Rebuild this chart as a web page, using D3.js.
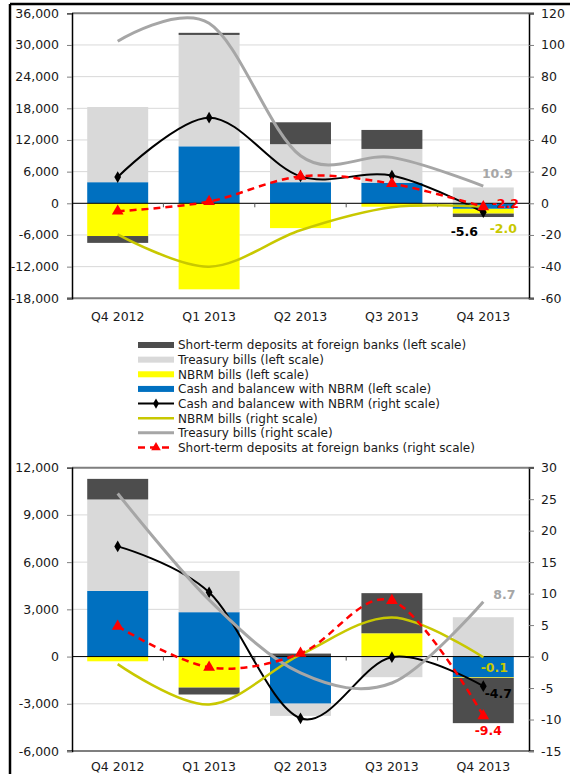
<!DOCTYPE html>
<html>
<head>
<meta charset="utf-8">
<script src="https://cdn.jsdelivr.net/npm/d3@7"></script>
<style>
  html, body { margin: 0; padding: 0; background: #fff; }
  svg { display: block; font-family: "DejaVu Sans", Verdana, sans-serif; }
</style>
</head>
<body>
<svg id="chart" width="570" height="774"></svg>
<script>
// Quarters on the horizontal axis
const categories = ["Q4 2012", "Q1 2013", "Q2 2013", "Q3 2013", "Q4 2013"];

// Upper panel: stacked bars (left scale, millions of denars)
const topCashLeft      = [4000, 10800, 4000, 3900, -1050];
const topNbrmLeft      = [-6200, -16300, -4700, -650, -900];
const topTreasuryLeft  = [14250, 21100, 7200, 6400, 3000];
const topDepositsLeft  = [-1300, 400, 4150, 3600, -650];
// Upper panel: lines (right scale, percent)
const topCashRight     = [16.6, 54.1, 17.0, 17.5, -5.6];
const topNbrmRight     = [-19.6, -40.0, -17.0, -2.5, -2.0];
const topTreasuryRight = [102.3, 113.7, 30.0, 29.0, 10.9];
const topDepositsRight = [-5.0, 1.1, 17.0, 12.4, -2.2];

// Lower panel: stacked bars (left scale)
const botCashLeft      = [4170, 2820, -2990, 0, -1310];
const botNbrmLeft      = [-300, -1970, 0, 1480, -40];
const botTreasuryLeft  = [5810, 2620, -780, -1310, 2500];
const botDepositsLeft  = [1310, -440, 190, 2550, -2880];
// Lower panel: lines (right scale)
const botCashRight     = [17.5, 10.2, -9.8, -0.1, -4.7];
const botNbrmRight     = [-1.2, -7.6, 0.3, 6.2, -0.1];
const botTreasuryRight = [25.9, 9.0, -2.6, -4.2, 8.7];
const botDepositsRight = [4.8, -1.7, 0.5, 8.9, -9.4];

// Axis ticks
const topLeftTicks  = [-18000, -12000, -6000, 0, 6000, 12000, 18000, 24000, 30000, 36000];
const topRightTicks = [-60, -40, -20, 0, 20, 40, 60, 80, 100, 120];
const botLeftTicks  = [-6000, -3000, 0, 3000, 6000, 9000, 12000];
const botRightTicks = [-15, -10, -5, 0, 5, 10, 15, 20, 25, 30];

// Legend entries
const legendLabels = [
  "Short-term deposits at foreign banks (left scale)",
  "Treasury bills (left scale)",
  "NBRM bills (left scale)",
  "Cash and balancew with NBRM (left scale)",
  "Cash and balancew with NBRM (right scale)",
  "NBRM bills (right scale)",
  "Treasury bills (right scale)",
  "Short-term deposits at foreign banks (right scale)"
];

const C = {
  deposits: "#4d4d4d",
  treasury: "#d9d9d9",
  nbrm: "#ffff00",
  cash: "#0070c0",
  lineCash: "#000000",
  lineNbrm: "#c8c800",
  lineTreasury: "#a6a6a6",
  lineDeposits: "#ff0000",
  grid: "#d9d9d9",
  text: "#1a1a1a"
};

const fmt = d3.formatLocale({decimal: ".", thousands: ",", grouping: [3], currency: ["", ""], minus: "-"});
const fmtThousands = fmt.format(",");
const fmtInt = fmt.format("d");
const fmtOne = fmt.format(".1f");

const svg = d3.select("#chart");

// Outer frame
svg.append("line").attr("x1", 10).attr("x2", 570).attr("y1", 4).attr("y2", 4)
  .attr("stroke", "#000").attr("stroke-width", 2.5);
svg.append("line").attr("x1", 10).attr("x2", 10).attr("y1", 4).attr("y2", 774)
  .attr("stroke", "#000").attr("stroke-width", 2.5);

function drawPanel(cfg) {
  const g = svg.append("g");
  const x = d3.scaleBand().domain(categories).range([cfg.left, cfg.right])
    .paddingInner(0.333).paddingOuter(0.1665);
  const cx = d => x(d) + x.bandwidth() / 2;
  const yL = d3.scaleLinear().domain(cfg.leftDomain).range([cfg.bottom, cfg.top]);
  const yR = d3.scaleLinear().domain(cfg.rightDomain).range([cfg.bottom, cfg.top]);

  // gridlines
  g.append("g").selectAll("line").data(cfg.leftTicks).join("line")
    .attr("x1", cfg.left).attr("x2", cfg.right)
    .attr("y1", d => yL(d)).attr("y2", d => yL(d))
    .attr("stroke", C.grid).attr("stroke-width", 1);

  // stacked bars
  const rows = categories.map((c, i) => ({
    cat: c,
    cash: cfg.cash[i], nbrm: cfg.nbrm[i], treasury: cfg.treasury[i], deposits: cfg.deposits[i]
  }));
  const keys = ["cash", "nbrm", "treasury", "deposits"];
  const series = d3.stack().keys(keys).offset(d3.stackOffsetDiverging)(rows);
  g.append("g").selectAll("g").data(series).join("g")
    .attr("fill", s => C[s.key])
    .selectAll("rect").data(s => s).join("rect")
    .attr("x", d => x(d.data.cat))
    .attr("width", x.bandwidth())
    .attr("y", d => yL(Math.max(d[0], d[1])))
    .attr("height", d => Math.abs(yL(d[0]) - yL(d[1])));

  // zero line with category separators
  g.append("line").attr("x1", cfg.left).attr("x2", cfg.right)
    .attr("y1", yL(0)).attr("y2", yL(0)).attr("stroke", "#000").attr("stroke-width", 1);
  const seps = categories.slice(1).map(c => x(c) - x.step() * x.paddingInner() / 2);
  g.append("g").selectAll("line").data(seps).join("line")
    .attr("x1", d => d).attr("x2", d => d)
    .attr("y1", yL(0)).attr("y2", yL(0) + 4)
    .attr("stroke", "#555").attr("stroke-width", 1);

  // frame lines top and bottom
  g.append("line").attr("x1", cfg.left).attr("x2", cfg.right + 5)
    .attr("y1", cfg.top).attr("y2", cfg.top).attr("stroke", "#7f7f7f").attr("stroke-width", 2);
  g.append("line").attr("x1", cfg.left - 5).attr("x2", cfg.right + 5)
    .attr("y1", cfg.bottom).attr("y2", cfg.bottom).attr("stroke", "#7f7f7f").attr("stroke-width", 2);

  // left axis
  const axL = g.append("g").attr("transform", `translate(${cfg.left},0)`)
    .call(d3.axisLeft(yL).tickValues(cfg.leftTicks).tickFormat(fmtThousands).tickSize(5).tickPadding(8));
  axL.select(".domain").attr("stroke", "#000").attr("stroke-width", 1.5);
  axL.selectAll(".tick line").attr("stroke", "#7f7f7f");
  axL.selectAll("text").attr("fill", C.text).attr("font-size", "12.5px")
    .attr("font-family", "DejaVu Sans, Verdana, sans-serif");

  // right axis
  const axR = g.append("g").attr("transform", `translate(${cfg.right},0)`)
    .call(d3.axisRight(yR).tickValues(cfg.rightTicks).tickFormat(fmtInt).tickSize(5).tickPadding(7));
  axR.select(".domain").attr("stroke", "#000").attr("stroke-width", 1.5);
  axR.selectAll(".tick line").attr("stroke", "#7f7f7f");
  axR.selectAll("text").attr("fill", C.text).attr("font-size", "12.5px")
    .attr("font-family", "DejaVu Sans, Verdana, sans-serif");

  // category labels
  const axB = g.append("g").attr("transform", `translate(0,${cfg.bottom})`)
    .call(d3.axisBottom(x).tickSize(0).tickPadding(cfg.labelPad));
  axB.select(".domain").remove();
  axB.selectAll("text").attr("fill", C.text).attr("font-size", "12.5px")
    .attr("font-family", "DejaVu Sans, Verdana, sans-serif");

  // lines on the right scale
  const curve = d3.curveCardinal.tension(0);
  const lineGen = d3.line().x((d, i) => cx(categories[i])).y(d => yR(d)).curve(curve);
  const lines = [
    {vals: cfg.cashR, color: C.lineCash, width: 2, dash: null},
    {vals: cfg.nbrmR, color: C.lineNbrm, width: 2.5, dash: null},
    {vals: cfg.treasuryR, color: C.lineTreasury, width: 3, dash: null},
    {vals: cfg.depositsR, color: C.lineDeposits, width: 2.5, dash: "7,5"}
  ];
  lines.forEach((L, idx) => {
    g.append("path").datum(L.vals).attr("d", lineGen)
      .attr("fill", "none").attr("stroke", L.color).attr("stroke-width", L.width)
      .attr("stroke-dasharray", L.dash);
    if (idx === 0) {
      g.append("g").selectAll("path").data(L.vals).join("path")
        .attr("d", d3.symbol(d3.symbolDiamond, 40))
        .attr("transform", (d, i) => `translate(${cx(categories[i])},${yR(d)})`)
        .attr("fill", "#000");
    }
  });
  // triangles for deposits line on top
  g.append("g").selectAll("path").data(cfg.depositsR).join("path")
    .attr("d", d3.symbol(d3.symbolTriangle, 60))
    .attr("transform", (d, i) => `translate(${cx(categories[i])},${yR(d)})`)
    .attr("fill", C.lineDeposits);

  // value labels for the last quarter
  const last = categories.length - 1;
  const lx = cx(categories[last]);
  cfg.labels.forEach(l => {
    const v = l.vals[last];
    g.append("text")
      .attr("x", lx + l.dx).attr("y", yR(v) + l.dy)
      .attr("text-anchor", "middle")
      .attr("font-size", "12.5px").attr("font-weight", "bold")
      .attr("fill", l.color)
      .text(fmtOne(v));
  });
}

drawPanel({
  left: 72, right: 529, top: 13.3, bottom: 298.3,
  leftDomain: [-18000, 36000], rightDomain: [-60, 120],
  leftTicks: topLeftTicks, rightTicks: topRightTicks,
  cash: topCashLeft, nbrm: topNbrmLeft, treasury: topTreasuryLeft, deposits: topDepositsLeft,
  cashR: topCashRight, nbrmR: topNbrmRight, treasuryR: topTreasuryRight, depositsR: topDepositsRight,
  labelPad: 14,
  labels: [
    {vals: topTreasuryRight, color: "#a6a6a6", dx: 14, dy: -8},
    {vals: topDepositsRight, color: "#ff0000", dx: 22, dy: 1},
    {vals: topCashRight, color: "#000000", dx: -19, dy: 24},
    {vals: topNbrmRight, color: "#c8c800", dx: 20, dy: 27}
  ]
});

drawPanel({
  left: 72, right: 529, top: 467.7, bottom: 751,
  leftDomain: [-6000, 12000], rightDomain: [-15, 30],
  leftTicks: botLeftTicks, rightTicks: botRightTicks,
  cash: botCashLeft, nbrm: botNbrmLeft, treasury: botTreasuryLeft, deposits: botDepositsLeft,
  cashR: botCashRight, nbrmR: botNbrmRight, treasuryR: botTreasuryRight, depositsR: botDepositsRight,
  labelPad: 11,
  labels: [
    {vals: botTreasuryRight, color: "#a6a6a6", dx: 21, dy: -3},
    {vals: botDepositsRight, color: "#ff0000", dx: 5, dy: 19},
    {vals: botCashRight, color: "#000000", dx: 15, dy: 12},
    {vals: botNbrmRight, color: "#c8c800", dx: 11, dy: 15}
  ]
});

// Legend
const legend = svg.append("g").attr("transform", "translate(138,0)");
const legendY = d3.scaleLinear().domain([0, 7]).range([345, 447.5]);
const swatchColors = [C.deposits, C.treasury, C.nbrm, C.cash];
legendLabels.forEach((label, i) => {
  const y = legendY(i);
  const item = legend.append("g");
  if (i < 4) {
    item.append("rect").attr("x", 0).attr("y", y - 3).attr("width", 36).attr("height", 6)
      .attr("fill", swatchColors[i]);
  } else {
    const colors = [C.lineCash, C.lineNbrm, C.lineTreasury, C.lineDeposits];
    const widths = [2, 2.5, 3, 2.5];
    item.append("line").attr("x1", 0).attr("x2", 36).attr("y1", y).attr("y2", y)
      .attr("stroke", colors[i - 4]).attr("stroke-width", widths[i - 4])
      .attr("stroke-dasharray", i === 7 ? "7,5" : null);
    if (i === 4) {
      item.append("path").attr("d", d3.symbol(d3.symbolDiamond, 30))
        .attr("transform", `translate(18,${y})`).attr("fill", "#000");
    }
    if (i === 7) {
      item.append("path").attr("d", d3.symbol(d3.symbolTriangle, 40))
        .attr("transform", `translate(18,${y})`).attr("fill", C.lineDeposits);
    }
  }
  item.append("text").attr("x", 40).attr("y", y + 4.3)
    .attr("font-size", "12px").attr("fill", C.text).text(label);
});
</script>
</body>
</html>
